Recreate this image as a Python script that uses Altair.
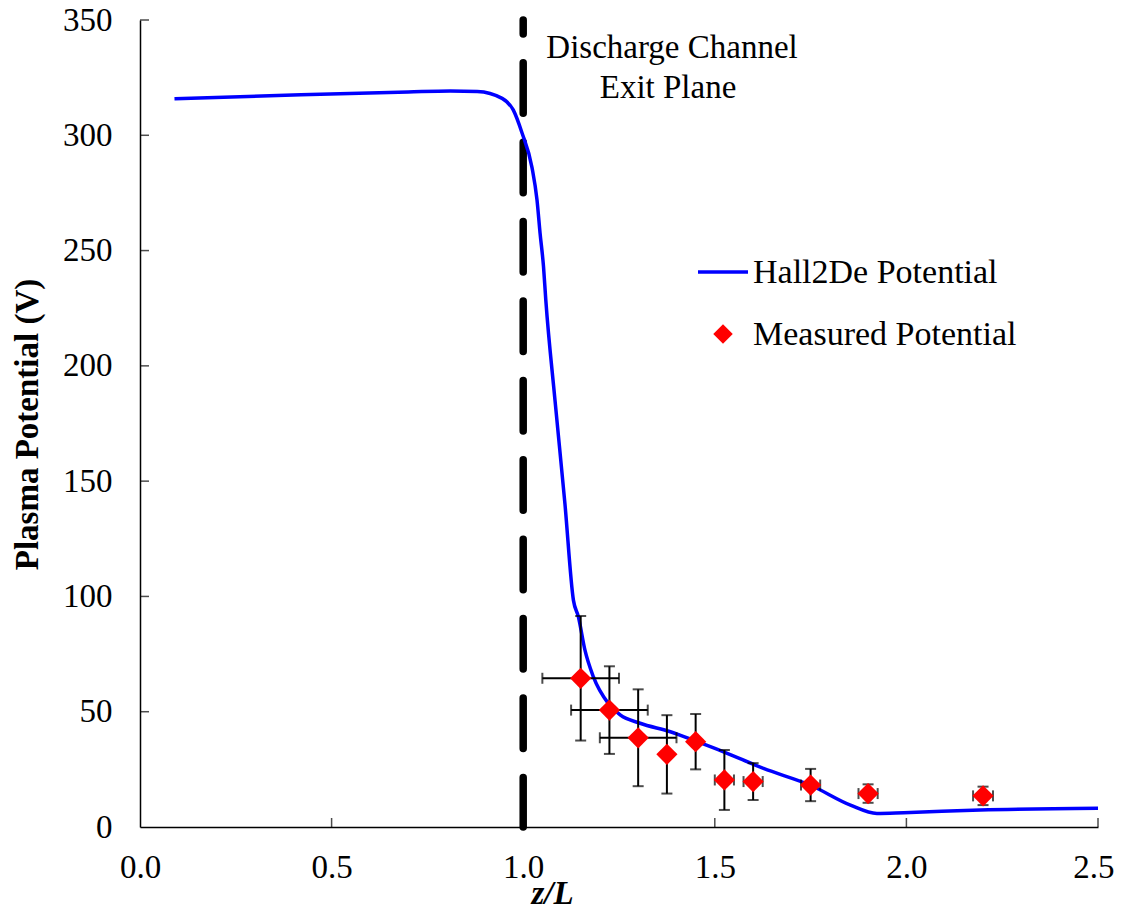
import altair as alt
import pandas as pd

# ---- data ----
line_z = [0.09, 0.42, 0.70, 0.81, 0.88, 0.945, 0.974, 0.997, 1.023, 1.036, 1.044, 1.053,
          1.059, 1.083, 1.109, 1.131, 1.144, 1.161, 1.183, 1.222, 1.253, 1.305, 1.384,
          1.454, 1.523, 1.627, 1.750, 1.854, 1.923, 1.993, 2.193, 2.500]
line_v = [315.8, 317.6, 318.8, 319.2, 319.0, 316.0, 311.0, 301.0, 286.0, 272.0, 257.6, 243.0,
          228.5, 185.0, 140.0, 98.4, 91.2, 76.8, 65.2, 53.6, 48.6, 45.0, 41.3,
          37.0, 32.6, 25.4, 18.1, 9.5, 5.9, 6.2, 7.4, 8.1]

meas_z = [1.15, 1.225, 1.30, 1.375, 1.45, 1.525, 1.60, 1.75, 1.90, 2.20]
meas_v = [64.5, 50.7, 38.7, 31.5, 37.0, 20.4, 19.7, 18.2, 14.5, 13.5]
meas_verr = [27, 19, 21, 17, 12, 13, 8, 7, 4, 4]
meas_zerr = [0.1, 0.1, 0.1, 0.0, 0.0, 0.025, 0.025, 0.025, 0.025, 0.026]

x_ticks = [0.0, 0.5, 1.0, 1.5, 2.0, 2.5]
y_ticks = [0, 50, 100, 150, 200, 250, 300, 350]
exit_plane = [1.0]

series_names = ["Hall2De Potential", "Measured Potential"]
annotation = ["Discharge Channel", "Exit Plane"]

W, H = 958, 807
FONT = "Liberation Serif"
FS_TICK = 33
FS_TITLE = 33
FS_LEG = 34
FS_ANN = 33

line_df = pd.DataFrame({"z": line_z, "V": line_v})
meas_df = pd.DataFrame({"z": meas_z, "V": meas_v, "verr": meas_verr, "zerr": meas_zerr})
meas_df["lo"] = meas_df["V"] - meas_df["verr"]
meas_df["hi"] = meas_df["V"] + meas_df["verr"]
meas_df["zlo"] = meas_df["z"] - meas_df["zerr"]
meas_df["zhi"] = meas_df["z"] + meas_df["zerr"]
zerr_df = meas_df[meas_df["zerr"] > 0]

xs = alt.Scale(domain=[0, 2.5], nice=False, zero=False)
ys = alt.Scale(domain=[0, 350], nice=False, zero=False)

last_x = x_ticks[-1]
x_axis = alt.Axis(values=x_ticks, format=".1f", ticks=False, grid=False,
                  domainColor="black", domainWidth=1.5,
                  labelFont=FONT, labelFontSize=FS_TICK, labelColor="black", labelPadding=24,
                  labelFlush=False, labelOverlap=False, labelBound=False,
                  labelAlign={"condition": {"test": f"datum.value >= {last_x}", "value": "right"},
                              "value": "center"},
                  labelOffset={"condition": {"test": f"datum.value >= {last_x}", "value": 16},
                               "value": 0},
                  title="z/L", titleFont=FONT, titleFontSize=FS_TITLE, titleColor="black",
                  titleFontStyle="italic", titleFontWeight="bold",
                  titleX=412, titleY=66, titleBaseline="middle", titleAlign="center")
y_axis = alt.Axis(values=y_ticks, ticks=False, grid=False,
                  domainColor="black", domainWidth=1.5,
                  labelFont=FONT, labelFontSize=FS_TICK, labelColor="black", labelPadding=28,
                  labelOverlap=False, labelBound=False, labelFlush=False,
                  title="Plasma Potential (V)", titleFont=FONT, titleFontSize=FS_TITLE,
                  titleColor="black", titleFontWeight="bold", titleAngle=270,
                  titleX=-113, titleY=404, titleBaseline="middle", titleAlign="center")

base_line = alt.Chart(line_df).mark_line(color="#0000FF", strokeWidth=3.5, interpolate="monotone").encode(
    x=alt.X("z:Q", scale=xs, axis=x_axis),
    y=alt.Y("V:Q", scale=ys, axis=y_axis),
)

dash = alt.Chart(pd.DataFrame({"z": exit_plane})).mark_rule(
    color="black", strokeWidth=7.5, strokeDash=[50.5, 28.9], strokeCap="round",
    strokeDashOffset=36.6
).encode(x=alt.X("z:Q", scale=xs), y=alt.value(0), y2=alt.value(H))

vbar = alt.Chart(meas_df).mark_rule(color="black", strokeWidth=2).encode(
    x=alt.X("z:Q", scale=xs), y=alt.Y("lo:Q", scale=ys), y2="hi:Q")
vcap_lo = alt.Chart(meas_df).mark_tick(color="black", orient="horizontal", size=11, thickness=2).encode(
    x=alt.X("z:Q", scale=xs), y=alt.Y("lo:Q", scale=ys))
vcap_hi = alt.Chart(meas_df).mark_tick(color="black", orient="horizontal", size=11, thickness=2).encode(
    x=alt.X("z:Q", scale=xs), y=alt.Y("hi:Q", scale=ys))
hbar = alt.Chart(zerr_df).mark_rule(color="black", strokeWidth=2).encode(
    x=alt.X("zlo:Q", scale=xs), x2="zhi:Q", y=alt.Y("V:Q", scale=ys))
hcap_lo = alt.Chart(zerr_df).mark_tick(color="black", orient="vertical", size=11, thickness=2).encode(
    x=alt.X("zlo:Q", scale=xs), y=alt.Y("V:Q", scale=ys))
hcap_hi = alt.Chart(zerr_df).mark_tick(color="black", orient="vertical", size=11, thickness=2).encode(
    x=alt.X("zhi:Q", scale=xs), y=alt.Y("V:Q", scale=ys))

points = alt.Chart(meas_df).mark_point(shape="diamond", filled=True, color="#FF0000", size=450, opacity=1).encode(
    x=alt.X("z:Q", scale=xs), y=alt.Y("V:Q", scale=ys))

# inward axis ticks
xt = alt.Chart(pd.DataFrame({"t": x_ticks[1:]})).mark_tick(
    color="black", orient="vertical", size=9, thickness=1.5, yOffset=-4.5).encode(
    x=alt.X("t:Q", scale=xs), y=alt.value(H))
yt = alt.Chart(pd.DataFrame({"t": y_ticks[1:]})).mark_tick(
    color="black", orient="horizontal", size=9, thickness=1.5, xOffset=4.5).encode(
    y=alt.Y("t:Q", scale=ys), x=alt.value(0))

# annotation
ann_df = pd.DataFrame({"label": annotation, "px": [532, 528], "py": [38, 78]})
ann = alt.Chart(ann_df).mark_text(font=FONT, fontSize=FS_ANN, color="black", align="center",
                                  baseline="alphabetic").encode(
    x=alt.X("px:Q", scale=None), y=alt.Y("py:Q", scale=None), text="label:N")

# legend
leg_line_df = pd.DataFrame({"px": [558, 608], "py": [252, 252]})
leg_line = alt.Chart(leg_line_df).mark_line(color="#0000FF", strokeWidth=3.5).encode(
    x=alt.X("px:Q", scale=None), y=alt.Y("py:Q", scale=None))
leg_pt = alt.Chart(pd.DataFrame({"px": [583], "py": [314]})).mark_point(
    shape="diamond", filled=True, color="#FF0000", size=380, opacity=1).encode(
    x=alt.X("px:Q", scale=None), y=alt.Y("py:Q", scale=None))
leg_txt_df = pd.DataFrame({"label": series_names, "px": [613, 613], "py": [263, 325]})
leg_txt = alt.Chart(leg_txt_df).mark_text(font=FONT, fontSize=FS_LEG, color="black", align="left",
                                          baseline="alphabetic").encode(
    x=alt.X("px:Q", scale=None), y=alt.Y("py:Q", scale=None), text="label:N")

chart = alt.layer(
    dash, base_line, vbar, vcap_lo, vcap_hi, hbar, hcap_lo, hcap_hi, points,
    xt, yt, ann, leg_line, leg_pt, leg_txt
).properties(
    width=W, height=H,
    autosize=alt.AutoSizeParams(type="none"),
    padding={"left": 132, "top": 12, "right": 17, "bottom": 84},
    background="white",
).configure_view(stroke=None)

chart.save("out.html", embed_options={"renderer": "svg", "actions": False})
